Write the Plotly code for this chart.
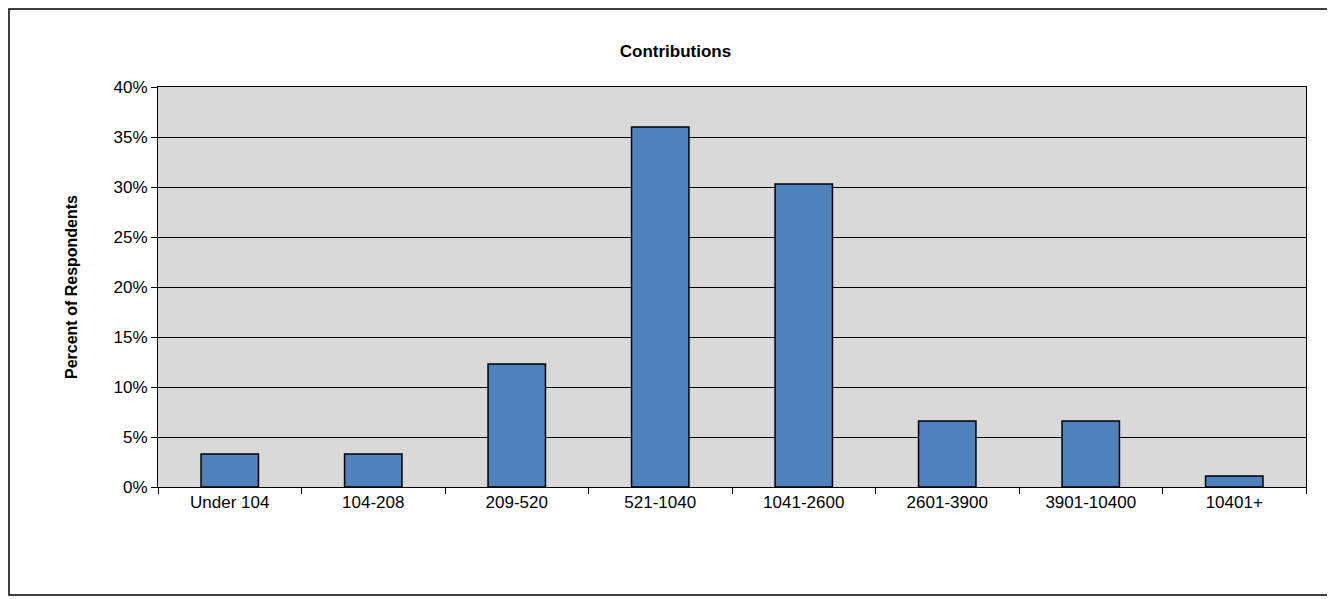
import plotly.graph_objects as go

categories = ["Under 104", "104-208", "209-520", "521-1040", "1041-2600", "2601-3900", "3901-10400", "10401+"]
values = [0.033, 0.033, 0.123, 0.360, 0.303, 0.066, 0.066, 0.011]
tick_vals = [0, 0.05, 0.10, 0.15, 0.20, 0.25, 0.30, 0.35, 0.40]

fig = go.Figure(go.Bar(x=categories, y=values, width=0.4,
                       marker=dict(color="#4F81BD", line=dict(color="black", width=1.5))))
fig.update_layout(
    width=1335, height=599,
    margin=dict(l=150, r=37, t=79, b=120),
    paper_bgcolor="white", plot_bgcolor="#D9D9D9",
    font=dict(family="Liberation Sans, Arial", size=17, color="black"),
    title=dict(text="<b>Contributions</b>", x=0.5, xanchor="center", y=0.928, yanchor="middle",
               font=dict(size=17)),
    showlegend=False,
)
fig.update_yaxes(range=[0, 0.40], tickvals=tick_vals, tickformat=".0%", showgrid=True,
                 gridcolor="black", gridwidth=1, showline=True, linecolor="black", linewidth=1,
                 ticks="outside", ticklen=6, tickcolor="black", mirror=True, zeroline=False,
                 title=dict(text="<b>Percent of Respondents</b>", standoff=31, font=dict(size=16)))
fig.update_xaxes(showline=True, linecolor="black", linewidth=1, mirror=True,
                 ticks="outside", ticklen=6, tickcolor="black", tickson="boundaries", showgrid=False)
fig.add_shape(type="rect", xref="paper", yref="paper", x0=-0.1298, x1=1.0209, y0=-0.27, y1=1.195,
              line=dict(color="black", width=1.5))
fig.write_html("out.html")
